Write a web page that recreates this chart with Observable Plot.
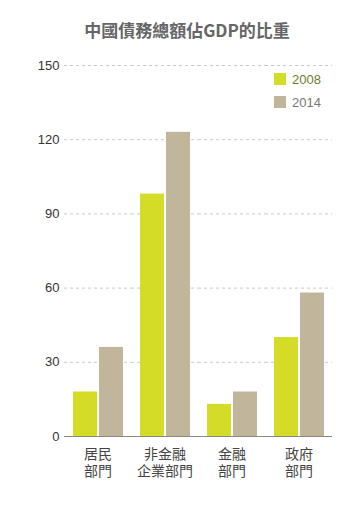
<!DOCTYPE html>
<html><head><meta charset="utf-8">
<script src="https://cdn.jsdelivr.net/npm/d3@7"></script>
<script src="https://cdn.jsdelivr.net/npm/@observablehq/plot@0.6"></script>
<style>
body{margin:0;background:#fff;width:358px;height:514px;overflow:hidden;position:relative;font-family:"Liberation Sans","Noto Sans CJK TC",sans-serif;}
#title{height:45px;padding-top:5px;padding-left:16px;box-sizing:content-box;line-height:50px;text-align:center;font-family:"Noto Sans CJK TC","Liberation Sans",sans-serif;font-weight:bold;font-size:17px;color:#666;}
#legend{position:absolute;left:274px;top:73px;font-size:13px;font-family:"Liberation Sans",sans-serif;}
.li{display:flex;align-items:center;height:12px;margin-bottom:11px;}
.sw{width:12px;height:12px;margin-right:6px;}
</style></head>
<body>
<div id="title">中國債務總額佔GDP的比重</div>
<div id="chart"></div>
<div id="legend"></div>
<script>
const groups = ["居民部門", "非金融企業部門", "金融部門", "政府部門"];
const groupLabels = ["居民\n部門", "非金融\n企業部門", "金融\n部門", "政府\n部門"];
const years = ["2008", "2014"];
const values2008 = [18, 98, 13, 40];
const values2014 = [36, 123, 18, 58];
const yTicks = [0, 30, 60, 90, 120, 150];
const colors = ["#d4dc28", "#c1b59b"];
const legendTextColors = ["#6e7d2a", "#777"];

const data = [];
groups.forEach((g, i) => {
  data.push({group: g, year: years[0], value: values2008[i]});
  data.push({group: g, year: years[1], value: values2014[i]});
});

const chart = Plot.plot({
  width: 358,
  height: 464,
  marginLeft: 62,
  marginRight: 25,
  marginTop: 15,
  marginBottom: 78,
  style: {fontFamily: '"Liberation Sans","Noto Sans CJK TC",sans-serif', fontSize: "13px", color: "#333", background: "#fff"},
  fx: {domain: groups, paddingInner: 0, paddingOuter: 0, label: null},
  x: {domain: years, paddingInner: 0.077, paddingOuter: 0.3, axis: null},
  y: {domain: [0, 150], label: null},
  color: {domain: years, range: colors},
  marks: [
    Plot.gridY(yTicks.filter(d => d > 0), {stroke: "#c8c8c8", strokeOpacity: 1, strokeDasharray: "3,3"}),
    Plot.axisY(yTicks, {tickSize: 0, tickPadding: 5, fontSize: 13, color: "#333", label: null}),
    Plot.barY(data, {fx: "group", x: "year", y: "value", fill: "year"}),
    Plot.ruleY([0], {stroke: "#888"}),
    Plot.axisFx({anchor: "bottom", tickSize: 0, tickPadding: 10, fontSize: 14, lineHeight: 1.25, color: "#444", label: null,
      fontFamily: '"Noto Sans CJK TC",sans-serif',
      tickFormat: d => groupLabels[groups.indexOf(d)]})
  ]
});
document.getElementById("chart").appendChild(chart);

const leg = document.getElementById("legend");
years.forEach((y, i) => {
  const row = document.createElement("div");
  row.className = "li";
  row.innerHTML = `<div class="sw" style="background:${colors[i]}"></div><span style="color:${legendTextColors[i]}">${y}</span>`;
  leg.appendChild(row);
});
</script>
</body></html>
